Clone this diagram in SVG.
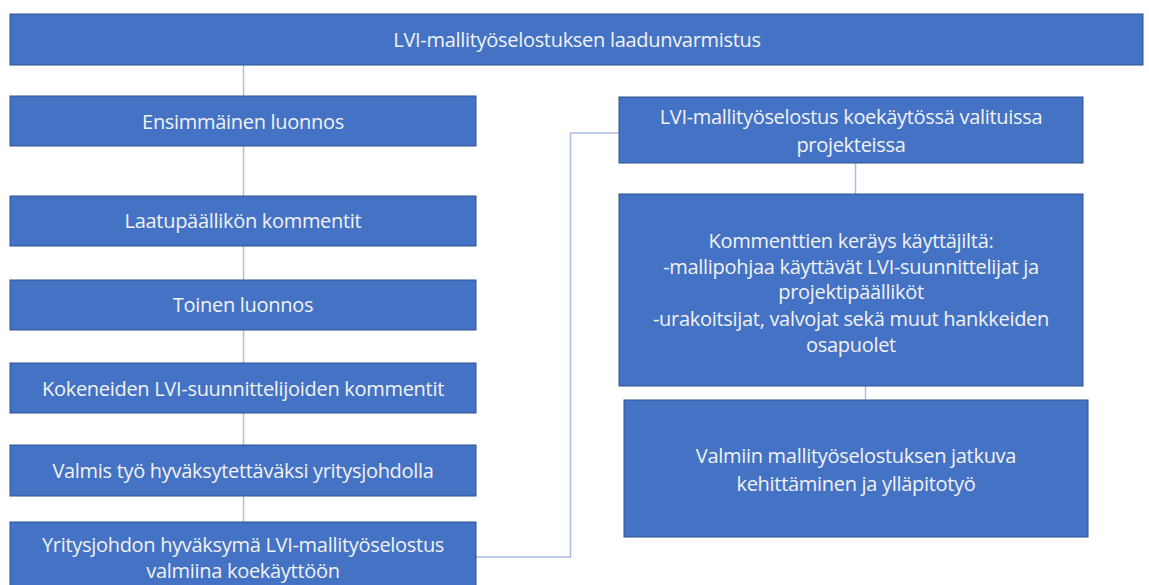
<svg xmlns="http://www.w3.org/2000/svg" width="1149" height="585" viewBox="0 0 1149 585">
<style>
.box{fill:#4472C4;stroke:#2F528F;stroke-width:1}
.t{font-family:"Open Sans","Liberation Sans",sans-serif;font-size:20px;fill:#F2F2F2;text-anchor:middle;letter-spacing:-0.3px}
.c{fill:none;stroke:#A9BFE6;stroke-width:1.5}
</style>
<rect width="1149" height="585" fill="#FFFFFF"/>
<g id="connectors">
<path class="c" d="M243.5 65V96M243.5 146V196M243.5 246V280M243.5 330V363M243.5 413V445M243.5 496V522"/>
<path class="c" d="M476 557H570.5V133H619"/>
<path class="c" d="M855.5 163V194"/>
<path class="c" d="M865.5 386V400"/>
</g>
<g id="n0"><rect class="box" x="10" y="14" width="1133" height="51"/><text class="t" x="577" y="47">LVI-mallityöselostuksen laadunvarmistus</text></g>
<g id="n1"><rect class="box" x="10" y="96" width="466" height="50"/><text class="t" x="243" y="129">Ensimmäinen luonnos</text></g>
<g id="n2"><rect class="box" x="10" y="196" width="466" height="50"/><text class="t" x="243" y="228">Laatupäällikön kommentit</text></g>
<g id="n3"><rect class="box" x="10" y="280" width="466" height="50"/><text class="t" x="243" y="312">Toinen luonnos</text></g>
<g id="n4"><rect class="box" x="10" y="363" width="466" height="50"/><text class="t" x="243" y="396">Kokeneiden LVI-suunnittelijoiden kommentit</text></g>
<g id="n5"><rect class="box" x="10" y="445" width="466" height="51"/><text class="t" x="243" y="478">Valmis työ hyväksytettäväksi yritysjohdolla</text></g>
<g id="n6"><rect class="box" x="10" y="522" width="466" height="70"/><text class="t" x="243" y="552">Yritysjohdon hyväksymä LVI-mallityöselostus</text><text class="t" x="243" y="578">valmiina koekäyttöön</text></g>
<g id="n7"><rect class="box" x="619" y="97" width="464" height="66"/><text class="t" x="851" y="124">LVI-mallityöselostus koekäytössä valituissa</text><text class="t" x="851" y="152">projekteissa</text></g>
<g id="n8"><rect class="box" x="619" y="194" width="464" height="192"/><text class="t" x="851" y="248">Kommenttien keräys käyttäjiltä:</text><text class="t" x="851" y="274">-mallipohjaa käyttävät LVI-suunnittelijat ja</text><text class="t" x="851" y="299">projektipäälliköt</text><text class="t" x="851" y="326">-urakoitsijat, valvojat sekä muut hankkeiden</text><text class="t" x="851" y="352">osapuolet</text></g>
<g id="n9"><rect class="box" x="624" y="400" width="464" height="137"/><text class="t" x="856" y="463">Valmiin mallityöselostuksen jatkuva</text><text class="t" x="856" y="491">kehittäminen ja ylläpitotyö</text></g>
</svg>
